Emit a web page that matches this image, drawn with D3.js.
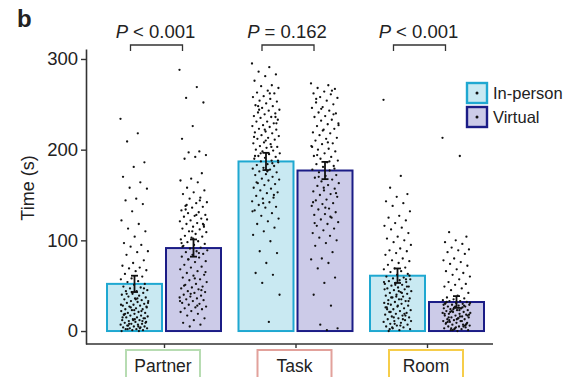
<!DOCTYPE html>
<html>
<head>
<meta charset="utf-8">
<script src="https://cdn.jsdelivr.net/npm/d3@7"></script>
<style>
  body { margin: 0; background: #fff; }
  text { font-family: "Liberation Sans", Arial, sans-serif; fill: #222; }
</style>
</head>
<body>
<script>
// categories and summary values
const groups = ['Partner', 'Task', 'Room'];
const conditions = ['In-person', 'Virtual'];
const inPersonMean = [52, 187, 61];
const virtualMean = [91.5, 177, 32];
const inPersonSem = [9, 9.5, 8];
const virtualSem = [9.5, 9.5, 6.5];
const pLabels = [['P', ' < 0.001'], ['P', ' = 0.162'], ['P', ' < 0.001']];
const yTicks = [0, 100, 200, 300];

// individual times (s), estimated from the scatter
const partnerInPerson = [234, 218, 209, 186, 181, 170, 164, 158, 157, 146, 144, 140, 132, 122, 118, 113, 110, 104, 97, 95,
  93, 88, 87, 84, 78, 75, 72, 70, 69, 67, 66, 63, 60, 58, 57, 55, 54, 52, 51, 49, 48, 47, 45, 44, 44, 42, 41, 40, 39, 38,
  37, 36, 35, 34, 33, 33, 32, 31, 30, 29, 28, 28, 27, 26, 25, 24, 24, 23, 22, 21, 20, 20, 19, 18, 17, 17, 16, 15, 15, 14,
  13, 12, 12, 11, 10, 10, 9, 8, 8, 7, 7, 6, 5, 5, 4, 4, 3, 3, 2, 2, 1, 1, 0, 0, 6, 9, 13, 18, 22, 26, 31, 36, 41, 47,
  12, 15, 3, 8, 27, 35, 19, 11, 43, 29, 5, 2, 14, 23];
const partnerVirtual = [288, 269, 257, 252, 226, 212, 198, 197, 194, 192, 190, 174, 168, 166, 164, 158, 155, 153, 151, 147,
  146, 142, 141, 138, 137, 136, 133, 131, 130, 128, 127, 126, 124, 122, 121, 119, 118, 117, 115, 113, 112, 110, 109, 107,
  105, 104, 103, 101, 99, 98, 96, 95, 94, 92, 91, 89, 88, 87, 85, 84, 82, 81, 79, 77, 76, 73, 71, 70, 68, 66, 64, 62, 61,
  59, 57, 56, 54, 52, 51, 49, 48, 47, 46, 44, 43, 42, 40, 39, 38, 37, 36, 35, 34, 33, 31, 30, 29, 27, 26, 25, 24, 22, 21,
  19, 17, 14, 12, 9, 7, 5, 123, 128, 134, 118, 110, 97, 86, 79, 65, 58, 50, 45, 41, 33, 28, 139, 115, 102, 93, 144];
const taskInPerson = [295, 291, 286, 283, 281, 276, 271, 270, 268, 265, 263, 262, 259, 258, 256, 254, 253, 251, 249, 248,
  246, 244, 243, 241, 240, 239, 237, 236, 235, 233, 231, 231, 229, 227, 226, 225, 223, 222, 220, 219, 218, 216, 215, 213,
  212, 211, 208, 207, 206, 204, 203, 202, 200, 199, 198, 196, 195, 193, 192, 191, 190, 188, 187, 186, 184, 183, 182, 180,
  179, 178, 176, 175, 173, 172, 170, 168, 167, 166, 163, 162, 161, 158, 157, 155, 153, 152, 149, 147, 146, 143, 142, 139,
  137, 136, 133, 130, 127, 124, 121, 118, 114, 110, 106, 99, 88, 86, 75, 64, 62, 53, 40, 10, 248, 236, 222, 214, 203, 196,
  188, 176, 164, 150, 141, 132, 262, 244, 229, 210, 193, 185];
const taskVirtual = [273, 271, 268, 267, 264, 262, 261, 258, 257, 254, 252, 250, 247, 246, 243, 241, 240, 237, 236, 233,
  232, 229, 228, 226, 223, 222, 219, 218, 216, 213, 212, 210, 207, 206, 204, 201, 200, 198, 196, 193, 192, 190, 188, 186,
  184, 182, 181, 178, 177, 175, 172, 171, 169, 167, 165, 163, 161, 160, 157, 155, 154, 151, 150, 148, 145, 144, 141, 140,
  138, 135, 134, 131, 129, 128, 125, 123, 120, 118, 116, 113, 111, 108, 105, 103, 100, 97, 94, 87, 80, 79, 75, 69, 59, 53,
  40, 28, 7, 3, 1, 256, 239, 221, 203, 187, 170, 152, 136, 119, 265, 245, 227, 208, 194, 179, 158, 142, 126];
const roomInPerson = [255, 171, 158, 151, 148, 143, 141, 138, 132, 127, 125, 122, 119, 116, 114, 112, 108, 104, 102, 100,
  98, 95, 91, 89, 88, 86, 84, 80, 78, 77, 75, 73, 70, 69, 68, 66, 65, 63, 62, 60, 59, 58, 57, 56, 55, 54, 53, 52, 51, 50,
  49, 48, 47, 46, 45, 44, 43, 42, 41, 40, 39, 38, 37, 36, 35, 34, 33, 32, 31, 30, 29, 28, 27, 26, 25, 24, 23, 22, 21, 20,
  19, 18, 17, 16, 15, 14, 13, 12, 11, 10, 9, 8, 7, 6, 5, 4, 3, 2, 1, 0, 57, 51, 46, 42, 37, 33, 28, 24, 19, 15, 11, 6, 2,
  49, 38, 26, 13, 4, 61, 44, 30, 17, 8, 54, 35, 21];
const roomVirtual = [213, 193, 109, 104, 100, 98, 96, 92, 90, 89, 87, 85, 80, 78, 76, 74, 72, 68, 66, 64, 62, 60, 57, 54,
  52, 51, 49, 47, 45, 42, 39, 37, 36, 35, 34, 33, 33, 32, 31, 31, 30, 29, 29, 28, 27, 27, 26, 25, 25, 24, 23, 23, 22, 21,
  21, 20, 19, 19, 18, 17, 17, 16, 15, 15, 14, 13, 13, 12, 11, 11, 10, 9, 9, 8, 7, 7, 6, 5, 5, 4, 3, 3, 2, 1, 1, 0, 32, 28,
  24, 20, 16, 12, 8, 4, 30, 26, 22, 18, 14, 10, 6, 2, 29, 25, 21, 17, 13, 9, 5, 1, 31, 23, 15, 7, 27, 19, 11, 3];

const pointsByGroup = [[partnerInPerson, partnerVirtual], [taskInPerson, taskVirtual], [roomInPerson, roomVirtual]];
const labelColors = ['#b7dcb2', '#e2a19b', '#f6cd4a'];
const fillColors = ['#c9e9f2', '#cccbe8'];
const strokeColors = ['#1fa8d1', '#1b1c86'];

const width = 568, height = 377;
const svg = d3.select('body').append('svg')
  .attr('width', width)
  .attr('height', height);

const y = d3.scaleLinear().domain([-14.3, 311]).range([344, 49]);
const x = d3.scalePoint().domain(groups).range([164, 427]);
const xSub = d3.scaleBand().domain(conditions).range([-57, 57]).paddingInner(0.068).paddingOuter(0);

// y axis
const yAxis = svg.append('g')
  .attr('transform', 'translate(86,0)')
  .call(d3.axisLeft(y).tickValues(yTicks).tickSize(5).tickPadding(3).tickSizeOuter(0));
yAxis.select('.domain').attr('stroke', '#333').attr('stroke-width', 1.6);
yAxis.selectAll('.tick line').attr('stroke', '#333').attr('stroke-width', 1.4);
yAxis.selectAll('.tick text').attr('font-size', 18.5).attr('fill', '#222')
  .style('font-family', '"Liberation Sans", Arial, sans-serif');

// x axis
const xAxis = svg.append('g')
  .attr('transform', 'translate(0,344)')
  .call(d3.axisBottom(x).tickSize(4).tickFormat(''));
xAxis.select('.domain').attr('d', 'M86,0H493').attr('stroke', '#333').attr('stroke-width', 1.6);
xAxis.selectAll('.tick line').attr('stroke', '#333').attr('stroke-width', 1.4);

// x labels in coloured boxes
const labelG = svg.append('g');
groups.forEach((g, i) => {
  const cx = x(g);
  labelG.append('rect')
    .attr('x', cx - 38).attr('y', 350).attr('width', 74).attr('height', 40)
    .attr('fill', 'none').attr('stroke', labelColors[i]).attr('stroke-width', 2);
  labelG.append('text')
    .attr('x', cx - 1).attr('y', 372).attr('text-anchor', 'middle')
    .attr('font-size', 17.5).text(g);
});

// bars
const groupG = svg.selectAll('g.grp').data(groups).enter().append('g')
  .attr('class', 'grp')
  .attr('transform', d => `translate(${x(d)},0)`);

const means = [inPersonMean, virtualMean];
const sems = [inPersonSem, virtualSem];

groupG.each(function (g, gi) {
  const sel = d3.select(this);
  conditions.forEach((c, ci) => {
    const m = means[ci][gi];
    const x0 = xSub(c);
    const bw = xSub.bandwidth();
    sel.append('rect')
      .attr('x', x0).attr('y', y(m))
      .attr('width', bw).attr('height', y(0) - y(m))
      .attr('fill', fillColors[ci]).attr('stroke', strokeColors[ci]).attr('stroke-width', 2);
  });
  conditions.forEach((c, ci) => {
    const cx = xSub(c) + xSub.bandwidth() / 2;
    const vals = pointsByGroup[gi][ci];
    sel.append('g').selectAll('circle').data(vals).enter().append('circle')
      .attr('cx', (d, i) => cx + (((i * 0.618034) % 1) - 0.5) * 28)
      .attr('cy', d => y(d))
      .attr('r', 1.15)
      .attr('fill', '#111');
  });
  conditions.forEach((c, ci) => {
    const cx = xSub(c) + xSub.bandwidth() / 2;
    const m = means[ci][gi], s = sems[ci][gi];
    const eb = sel.append('g').attr('stroke', '#111').attr('stroke-width', 1.8);
    eb.append('line').attr('x1', cx).attr('x2', cx).attr('y1', y(m - s)).attr('y2', y(m + s));
    eb.append('line').attr('x1', cx - 3.5).attr('x2', cx + 3.5).attr('y1', y(m - s)).attr('y2', y(m - s));
    eb.append('line').attr('x1', cx - 3.5).attr('x2', cx + 3.5).attr('y1', y(m + s)).attr('y2', y(m + s));
  });

  // significance bracket
  const bx1 = xSub('In-person') + xSub.bandwidth() / 2 - 4;
  const bx2 = xSub('Virtual') + xSub.bandwidth() / 2 - 11;
  sel.append('path')
    .attr('d', `M${bx1},51V45H${bx2}V51`)
    .attr('fill', 'none').attr('stroke', '#333').attr('stroke-width', 1.3);
  const t = sel.append('text')
    .attr('x', (bx1 + bx2) / 2 - 1).attr('y', 37.5).attr('text-anchor', 'middle')
    .attr('font-size', 18.5);
  t.append('tspan').attr('font-style', 'italic').text(pLabels[gi][0]);
  t.append('tspan').text(pLabels[gi][1]);
});

// y label
svg.append('text')
  .attr('transform', 'translate(34,188) rotate(-90)')
  .attr('text-anchor', 'middle').attr('font-size', 18)
  .text('Time (s)');

// panel letter
svg.append('text')
  .attr('x', 17).attr('y', 27)
  .attr('font-size', 24).attr('font-weight', 'bold').attr('fill', '#111')
  .text('b');

// legend
const legend = svg.append('g').attr('transform', 'translate(466,82)');
conditions.forEach((c, ci) => {
  const lg = legend.append('g').attr('transform', `translate(0,${ci * 24})`);
  lg.append('rect').attr('x', 1).attr('y', 1).attr('width', 20).attr('height', 20)
    .attr('fill', fillColors[ci]).attr('stroke', strokeColors[ci]).attr('stroke-width', 2.4);
  lg.append('circle').attr('cx', 11).attr('cy', 11).attr('r', 1.5).attr('fill', '#111');
  lg.append('text').attr('x', 27).attr('y', 17).attr('font-size', 16.5).text(c);
});
</script>
</body>
</html>
